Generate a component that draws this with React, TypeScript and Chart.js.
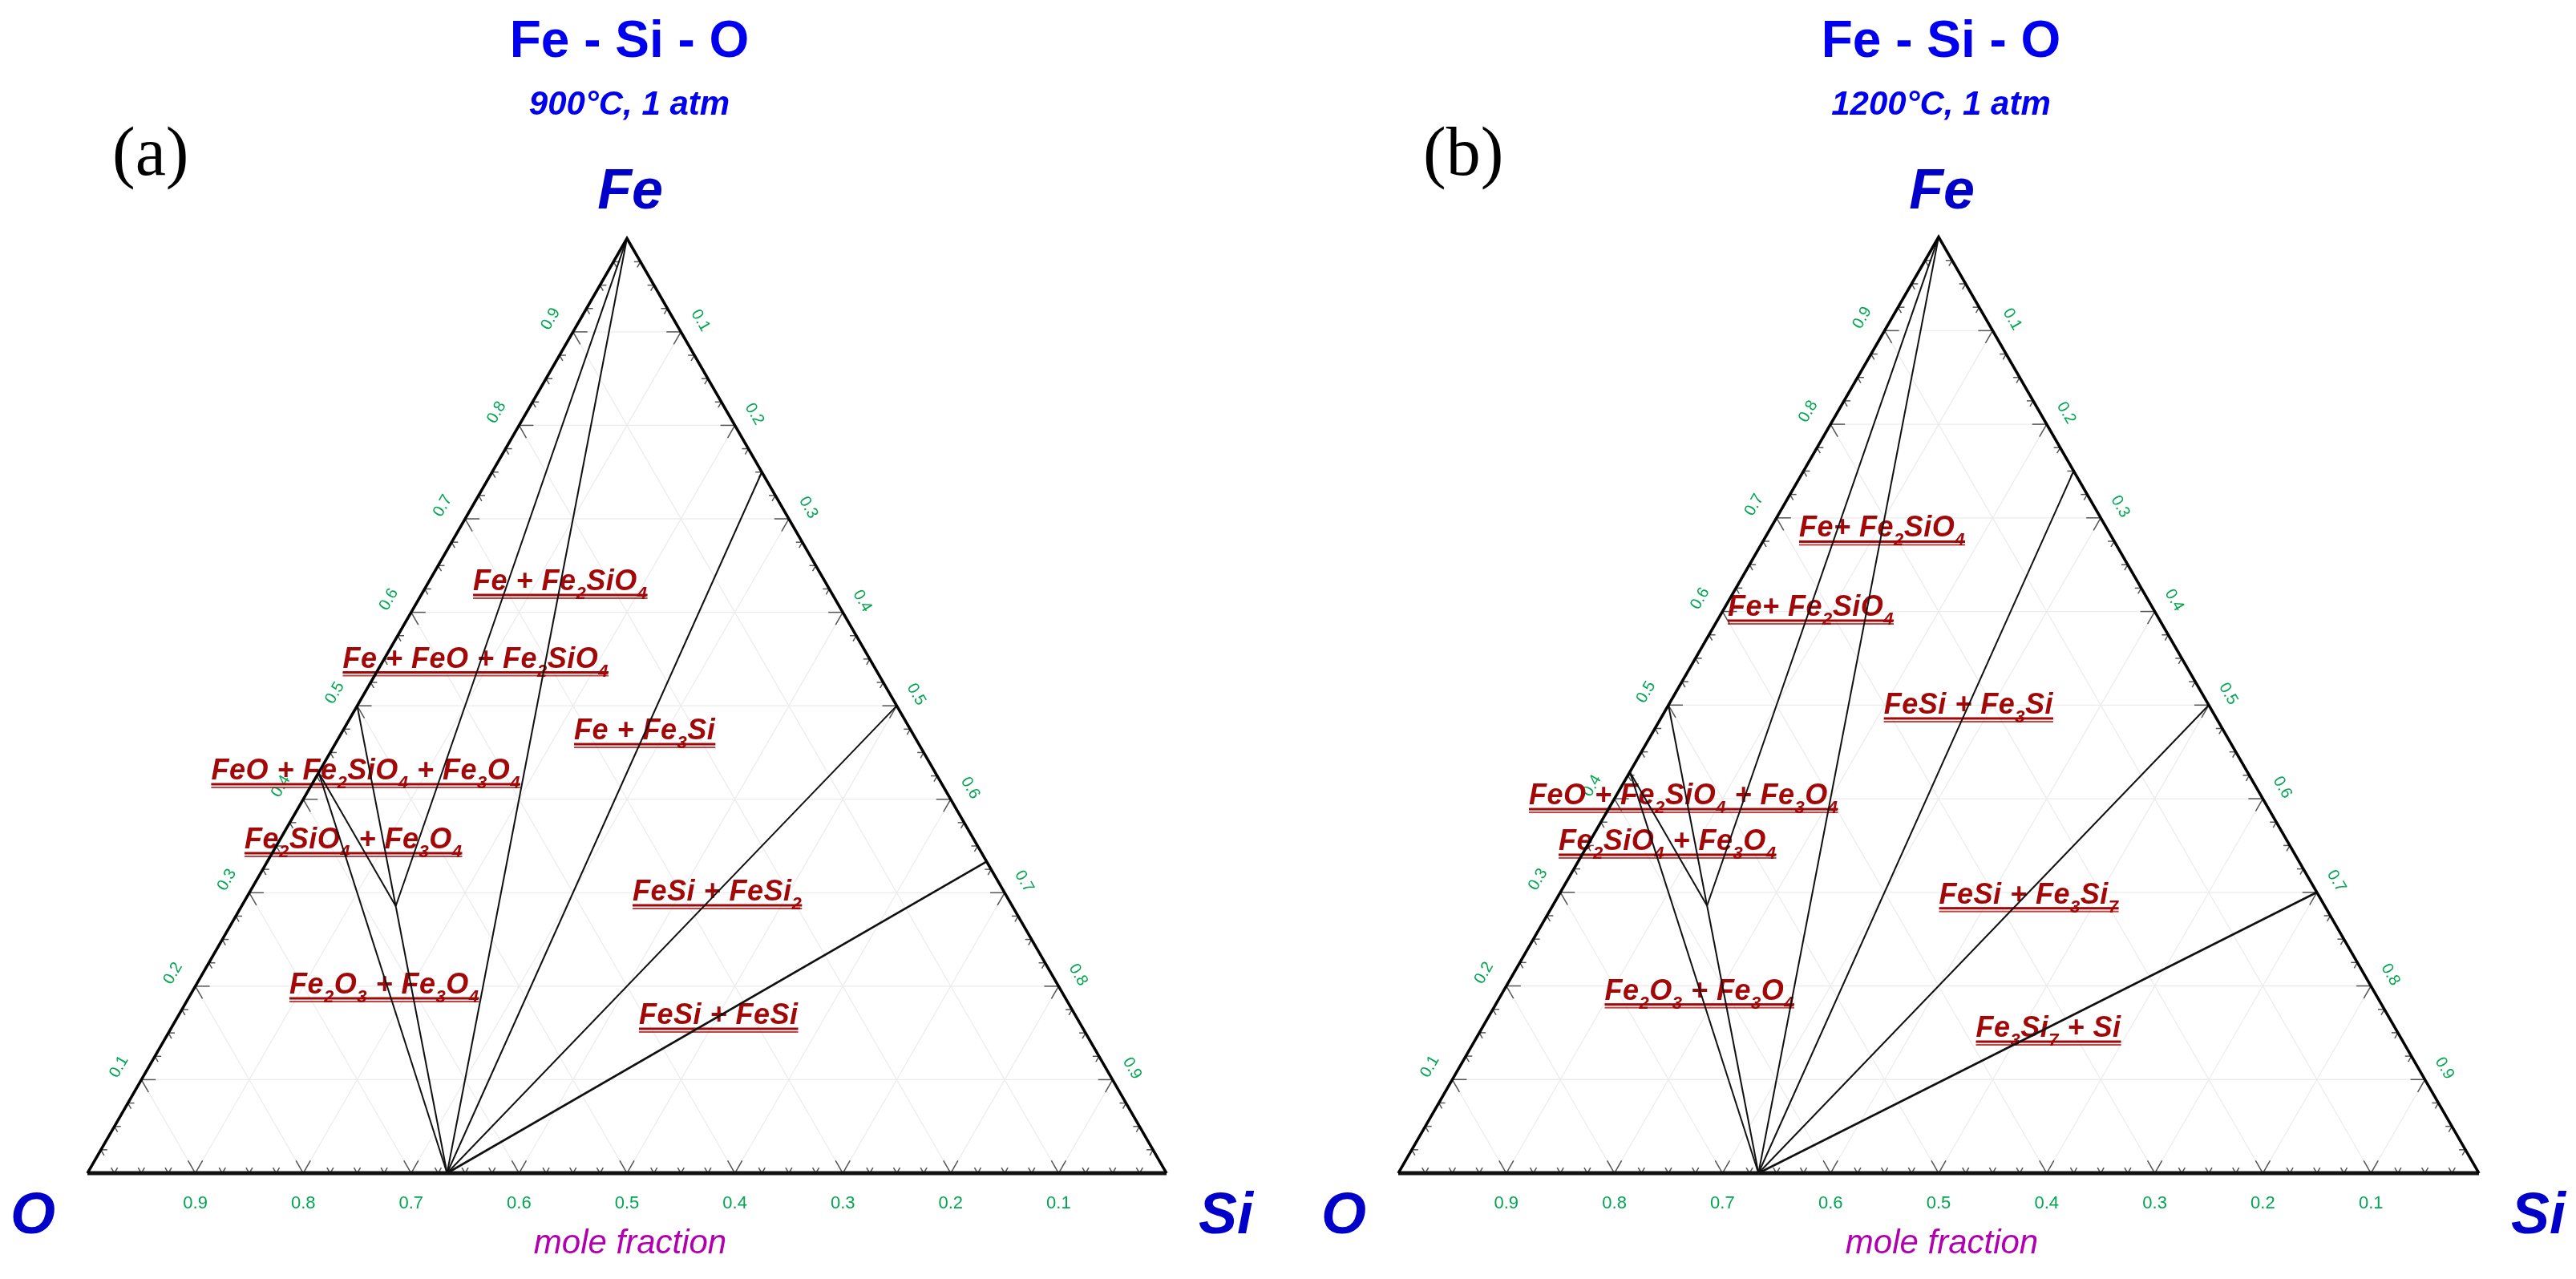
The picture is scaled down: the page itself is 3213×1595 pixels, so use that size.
import React, { useEffect, useRef } from "react";
import { Chart, registerables } from "chart.js";

Chart.register(...registerables);

// ---------------- data ----------------
const TITLE = "Fe - Si - O";
const SUBTITLES = ["900°C, 1 atm", "1200°C, 1 atm"];
const PANEL_TAGS = ["(a)", "(b)"];
const CORNER_TOP = "Fe";
const CORNER_LEFT = "O";
const CORNER_RIGHT = "Si";
const AXIS_NOTE = "mole fraction";

// ternary corners (mole fraction Fe, mole fraction Si): O, Si, Fe
const CORNER_XFE = [0, 0, 1];
const CORNER_XSI = [0, 1, 0];

const MAJOR_TICKS = [0.1, 0.2, 0.3, 0.4, 0.5, 0.6, 0.7, 0.8, 0.9];
const TICK_LABELS = ["0.1", "0.2", "0.3", "0.4", "0.5", "0.6", "0.7", "0.8", "0.9"];
const MINOR_PER_MAJOR = 4;

// phases: composition as mole fraction Fe and Si
const PHASE_NAMES = ["Fe", "FeO", "Fe3O4", "Fe2SiO4", "SiO2", "Fe3Si", "FeSi", "FeSi2", "Fe3Si7"];
const PHASE_XFE = [1, 0.5, 0.4286, 0.2857, 0, 0.75, 0.5, 0.3333, 0.3];
const PHASE_XSI = [0, 0, 0, 0.1429, 0.3333, 0.25, 0.5, 0.6667, 0.7];

// tie lines
const TIES_900 = [
  ["Fe", "Fe2SiO4"],
  ["Fe", "SiO2"],
  ["FeO", "Fe2SiO4"],
  ["Fe3O4", "Fe2SiO4"],
  ["Fe3O4", "SiO2"],
  ["Fe2SiO4", "SiO2"],
  ["Fe3Si", "SiO2"],
  ["FeSi", "SiO2"],
  ["FeSi2", "SiO2"],
];
const TIES_1200 = [
  ["Fe", "Fe2SiO4"],
  ["Fe", "SiO2"],
  ["FeO", "Fe2SiO4"],
  ["Fe3O4", "Fe2SiO4"],
  ["Fe3O4", "SiO2"],
  ["Fe2SiO4", "SiO2"],
  ["Fe3Si", "SiO2"],
  ["FeSi", "SiO2"],
  ["Fe3Si7", "SiO2"],
];

// region labels ("_n" = subscript) and anchors in diagram coordinates
const REGION_TEXT_900 = [
  "Fe + Fe_2SiO_4",
  "Fe + FeO + Fe_2SiO_4",
  "Fe + Fe_3Si",
  "FeO + Fe_2SiO_4 + Fe_3O_4",
  "Fe_2SiO_4 + Fe_3O_4",
  "Fe_2O_3 + Fe_3O_4",
  "FeSi + FeSi_2",
  "FeSi + FeSi",
];
const REGION_U_900 = [0.3574, 0.2366, 0.451, 0.1147, 0.1456, 0.1872, 0.5052, 0.5111];
const REGION_V_900 = [0.5401, 0.4684, 0.4019, 0.3648, 0.3009, 0.1664, 0.2526, 0.1382];

const REGION_TEXT_1200 = [
  "Fe+ Fe_2SiO_4",
  "Fe+ Fe_2SiO_4",
  "FeSi + Fe_3Si",
  "FeO + Fe_2SiO_4 + Fe_3O_4",
  "Fe_2SiO_4 + Fe_3O_4",
  "Fe_2O_3 + Fe_3O_4",
  "FeSi + Fe_3Si_7",
  "Fe_3Si_7 + Si",
];
const REGION_U_1200 = [0.3709, 0.3049, 0.4493, 0.1209, 0.1484, 0.191, 0.5004, 0.5345];
const REGION_V_1200 = [0.5887, 0.5156, 0.4251, 0.3412, 0.299, 0.1605, 0.2495, 0.1261];

// ---------------- layout / style ----------------
const H = 1595;
const SQ = Math.sqrt(3) / 2;
const SANS = "'Liberation Sans', Arial, sans-serif";
const SERIF = "'Liberation Serif', 'Times New Roman', serif";
const BLUE = "#0000ee";
const DBLUE = "#0000c8";
const GREEN = "#00a650";
const RED = "#a30808";
const MAGENTA = "#b000b0";

const PANELS = [
  {
    left: 0,
    width: 1606,
    pad: { left: 109, right: 151, top: 297.3, bottom: 132 },
    subtitle: SUBTITLES[0],
    tag: PANEL_TAGS[0],
    ties: TIES_900,
    text: REGION_TEXT_900,
    u: REGION_U_900,
    v: REGION_V_900,
  },
  {
    left: 1606,
    width: 1607,
    pad: { left: 138, right: 121, top: 295.6, bottom: 132 },
    subtitle: SUBTITLES[1],
    tag: PANEL_TAGS[1],
    ties: TIES_1200,
    text: REGION_TEXT_1200,
    u: REGION_U_1200,
    v: REGION_V_1200,
  },
];

function toXY(fe: number, si: number) {
  return { x: si + fe / 2, y: fe * SQ };
}
function phase(name: string) {
  const i = PHASE_NAMES.indexOf(name);
  return toXY(PHASE_XFE[i], PHASE_XSI[i]);
}

function drawRich(ctx: any, text: string, x: number, y: number) {
  const parts = text.split(/(_\d)/).filter((s) => s.length);
  let cx = x;
  ctx.fillStyle = RED;
  ctx.textAlign = "left";
  ctx.textBaseline = "alphabetic";
  ctx.letterSpacing = "0.5px";
  for (const p of parts) {
    if (p[0] === "_") {
      const s = p.slice(1);
      ctx.font = `italic bold 22px ${SANS}`;
      ctx.fillText(s, cx, y + 11);
      cx += ctx.measureText(s).width;
    } else {
      ctx.font = `italic bold 36px ${SANS}`;
      ctx.fillText(p, cx, y);
      cx += ctx.measureText(p).width;
    }
  }
  ctx.letterSpacing = "0px";
  ctx.fillRect(x, y + 4.5, cx - x, 3);
  ctx.globalAlpha = 0.75;
  ctx.fillRect(x, y + 9, cx - x, 2);
  ctx.globalAlpha = 1;
}

function makePlugin(spec: any) {
  return {
    id: "ternaryDecor",
    beforeDatasetsDraw(chart: any) {
      const ctx = chart.ctx;
      const xs = chart.scales.x;
      const ys = chart.scales.y;
      const px = (u: number, v: number) => [xs.getPixelForValue(u), ys.getPixelForValue(v)];
      const comp = (fe: number, si: number) => {
        const p = toXY(fe, si);
        return px(p.x, p.y);
      };
      const seg = (a: number[], b: number[]) => {
        ctx.beginPath();
        ctx.moveTo(a[0], a[1]);
        ctx.lineTo(b[0], b[1]);
        ctx.stroke();
      };
      ctx.save();

      // grid
      ctx.strokeStyle = "#ececec";
      ctx.lineWidth = 1.3;
      MAJOR_TICKS.forEach((f) => {
        seg(comp(f, 0), comp(f, 1 - f));
        seg(comp(0, f), comp(1 - f, f));
        seg(comp(0, 1 - f), comp(1 - f, 0));
      });

      // ticks
      ctx.strokeStyle = "#555";
      ctx.lineWidth = 1.5;
      const nSteps = (MAJOR_TICKS.length + 1) * MINOR_PER_MAJOR;
      const arms = (p: number[], dirs: number[][], L: number) => {
        dirs.forEach((d) => seg(p, [p[0] + d[0] * L, p[1] + d[1] * L]));
      };
      for (let i = 1; i < nSteps; i++) {
        const t = i / nSteps;
        const L = i % MINOR_PER_MAJOR === 0 ? 18 : 8;
        arms(comp(0, t), [[-0.5, -SQ], [0.5, -SQ]], L);
        arms(comp(t, 0), [[1, 0], [0.5, SQ]], L);
        arms(comp(t, 1 - t), [[-1, 0], [-0.5, SQ]], L);
      }

      // tick labels
      ctx.fillStyle = GREEN;
      ctx.textAlign = "center";
      ctx.font = `22px ${SANS}`;
      ctx.textBaseline = "alphabetic";
      MAJOR_TICKS.forEach((f, k) => {
        const p = comp(0, 1 - f);
        ctx.fillText(TICK_LABELS[k], p[0], p[1] + 44);
      });
      ctx.font = `20px ${SANS}`;
      ctx.textBaseline = "middle";
      MAJOR_TICKS.forEach((f, k) => {
        const p = comp(f, 0);
        ctx.save();
        ctx.translate(p[0] - SQ * 32, p[1] - 0.5 * 32);
        ctx.rotate(-Math.PI / 3);
        ctx.fillText(TICK_LABELS[k], 0, 0);
        ctx.restore();
        const q = comp(1 - f, f);
        ctx.save();
        ctx.translate(q[0] + SQ * 28, q[1] - 0.5 * 28);
        ctx.rotate(Math.PI / 3);
        ctx.fillText(TICK_LABELS[k], 0, 0);
        ctx.restore();
      });

      // titles & corner labels
      const apex = comp(1, 0);
      const oC = comp(0, 0);
      const siC = comp(0, 1);
      ctx.textBaseline = "alphabetic";
      ctx.textAlign = "center";
      ctx.fillStyle = BLUE;
      ctx.font = `bold 64px ${SANS}`;
      ctx.fillText(TITLE, apex[0] + 3, 71);
      ctx.font = `italic bold 42px ${SANS}`;
      ctx.fillText(spec.subtitle, apex[0] + 3, 143);
      ctx.fillStyle = DBLUE;
      ctx.font = `italic bold 70px ${SANS}`;
      ctx.fillText(CORNER_TOP, apex[0] + 4, 260);
      ctx.font = `italic bold 72px ${SANS}`;
      ctx.textAlign = "right";
      ctx.fillText(CORNER_LEFT, oC[0] - 40, 1538);
      ctx.textAlign = "left";
      ctx.fillText(CORNER_RIGHT, siC[0] + 40, 1538);
      ctx.fillStyle = MAGENTA;
      ctx.textAlign = "center";
      ctx.font = `italic 42px ${SANS}`;
      ctx.fillText(AXIS_NOTE, apex[0] + 4, 1563);
      ctx.fillStyle = "#000";
      ctx.textAlign = "left";
      ctx.font = `86px ${SERIF}`;
      ctx.fillText(spec.tag, oC[0] + 31, 218);

      // region labels
      spec.text.forEach((t: string, i: number) => {
        const p = px(spec.u[i], spec.v[i]);
        drawRich(ctx, t, p[0], p[1]);
      });

      ctx.restore();
    },
  };
}

function buildDatasets(spec: any) {
  const ties = spec.ties.map((pair: string[], i: number) => ({
    data: [phase(pair[0]), phase(pair[1])],
    showLine: true,
    borderColor: "#111",
    borderWidth: i === spec.ties.length - 1 ? 2.6 : 2,
    pointRadius: 0,
    clip: false,
  }));
  const corners = CORNER_XFE.map((fe, i) => toXY(fe, CORNER_XSI[i]));
  const sides = {
    data: [corners[1], corners[2], corners[0]],
    showLine: true,
    borderColor: "#000",
    borderWidth: 3.5,
    pointRadius: 0,
    clip: false,
  };
  const base = {
    data: [corners[0], corners[1]],
    showLine: true,
    borderColor: "#111",
    borderWidth: 5,
    pointRadius: 0,
    clip: false,
  };
  return [sides, base, ...ties];
}

function Panel({ spec }: { spec: any }) {
  const ref = useRef<HTMLCanvasElement | null>(null);
  useEffect(() => {
    if (!ref.current) return;
    const chart = new Chart(ref.current, {
      type: "scatter",
      data: { datasets: buildDatasets(spec) as any },
      options: {
        animation: false,
        responsive: false,
        devicePixelRatio: 1,
        layout: { padding: spec.pad },
        plugins: { legend: { display: false }, tooltip: { enabled: false } },
        scales: {
          x: { type: "linear", min: 0, max: 1, display: false },
          y: { type: "linear", min: 0, max: SQ, display: false },
        },
        elements: { line: { tension: 0 } },
      },
      plugins: [makePlugin(spec)],
    } as any);
    return () => chart.destroy();
  }, []);
  return (
    <canvas
      ref={ref}
      width={spec.width}
      height={H}
      style={{ position: "absolute", left: spec.left, top: 0, width: spec.width, height: H }}
    />
  );
}

export default function App() {
  useEffect(() => {
    document.body.style.margin = "0";
    document.body.style.overflow = "hidden";
  }, []);
  return (
    <div style={{ position: "absolute", left: 0, top: 0, width: 3213, height: H, background: "#fff" }}>
      {PANELS.map((p, i) => (
        <Panel key={i} spec={p} />
      ))}
    </div>
  );
}
